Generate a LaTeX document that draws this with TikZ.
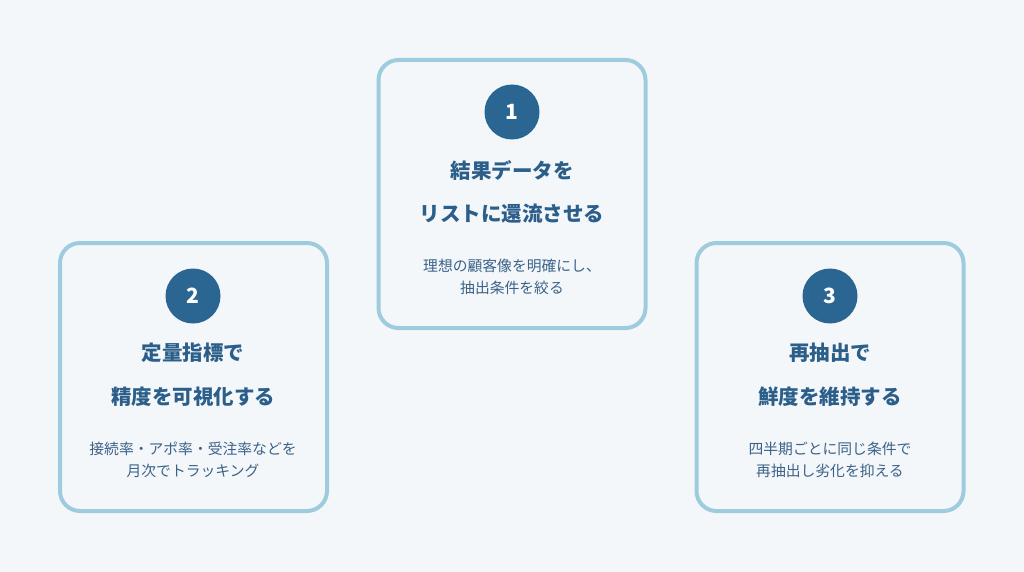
\documentclass[tikz,border=0pt]{standalone}
\usepackage{fontspec}
\newfontfamily\jp{Noto Sans CJK JP}
\definecolor{bg}{HTML}{F4F7FA}
\definecolor{bordc}{HTML}{9ECBDE}
\definecolor{circc}{HTML}{2B6592}
\definecolor{titlec}{HTML}{2B5F8A}
\definecolor{bodyc}{HTML}{3B6288}
\tikzset{
  card/.style={draw=bordc, line width=4pt, fill=bg, rounded corners=20pt, minimum width=267pt, minimum height=268pt, inner sep=0pt},
  numc/.style={circle, fill=circc, minimum size=55pt, inner sep=0pt, text=white, font=\jp\bfseries\fontsize{21}{24}\selectfont},
  ttl/.style={text=titlec, font=\jp\bfseries\fontsize{20.5}{24}\selectfont, inner sep=0pt, anchor=center},
  bdy/.style={text=bodyc, font=\jp\fontsize{14.8}{21.5}\selectfont, inner sep=0pt, align=center, anchor=center}
}
\begin{document}
\begin{tikzpicture}[x=1pt,y=-1pt]
\fill[bg] (0,0) rectangle (1024,572);
\useasboundingbox (0,0) rectangle (1024,572);
% card 1
\node[card] (c1) at (512,194) {};
\node[numc] (n1) at (512,112) {1};
\node[ttl] (t1a) at (512,170) {結果データを};
\node[ttl] (t1b) at (512,214) {リストに還流させる};
\node[bdy] (b1) at (512,277) {理想の顧客像を明確にし、\\抽出条件を絞る};
% card 2
\node[card] (c2) at (193.5,377) {};
\node[numc] (n2) at (193,296) {2};
\node[ttl] (t2a) at (193,353) {定量指標で};
\node[ttl] (t2b) at (193,397) {精度を可視化する};
\node[bdy] (b2) at (193,460) {接続率・アポ率・受注率などを\\月次でトラッキング};
% card 3
\node[card] (c3) at (830,377) {};
\node[numc] (n3) at (830,296) {3};
\node[ttl] (t3a) at (830,353) {再抽出で};
\node[ttl] (t3b) at (830,397) {鮮度を維持する};
\node[bdy] (b3) at (830,460) {四半期ごとに同じ条件で\\再抽出し劣化を抑える};
\end{tikzpicture}
\end{document}
